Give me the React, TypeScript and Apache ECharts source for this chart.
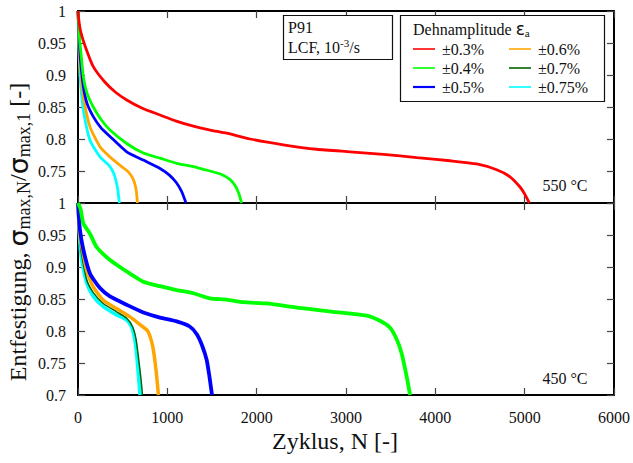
import React, { useEffect, useRef } from "react";
import * as echarts from "echarts";

// Strain amplitude labels and line colours
const amplitudes = ["±0.3%", "±0.4%", "±0.5%", "±0.6%", "±0.7%", "±0.75%"];
const colors = ["#ff0000", "#00ff00", "#0000ff", "#ffa500", "#006400", "#00ffff"];

// 550 °C: [cycle N, σmax,N/σmax,1]
const t550_03 = [[0, 1], [10, 0.985], [30, 0.968], [80, 0.945], [171, 0.913], [300, 0.889], [420, 0.873], [545, 0.861], [720, 0.848], [918, 0.8375], [1100, 0.828], [1291, 0.82], [1480, 0.814], [1664, 0.809], [1925, 0.8], [2298, 0.791], [2671, 0.784], [3045, 0.78], [3418, 0.776], [3791, 0.771], [4164, 0.766], [4463, 0.761], [4687, 0.752], [4836, 0.741], [4948, 0.725], [5000, 0.714], [5052, 0.7]];
const t550_04 = [[0, 1], [15, 0.96], [30, 0.939], [60, 0.897], [100, 0.872], [171, 0.85], [260, 0.83], [358, 0.814], [545, 0.793], [731, 0.778], [918, 0.77], [1104, 0.762], [1291, 0.757], [1477, 0.75], [1600, 0.745], [1700, 0.737], [1760, 0.727], [1800, 0.715], [1832, 0.7]];
const t550_05 = [[0, 1], [15, 0.95], [30, 0.92], [60, 0.882], [100, 0.856], [171, 0.835], [260, 0.817], [358, 0.804], [545, 0.78], [731, 0.767], [918, 0.754], [1020, 0.744], [1100, 0.732], [1160, 0.718], [1209, 0.7]];
const t550_06 = [[0, 1], [15, 0.93], [30, 0.905], [60, 0.866], [134, 0.819], [246, 0.788], [358, 0.772], [470, 0.759], [560, 0.749], [615, 0.738], [645, 0.725], [658, 0.712], [665, 0.7]];
const t550_075 = [[0, 1], [15, 0.92], [30, 0.885], [60, 0.845], [134, 0.798], [246, 0.772], [358, 0.757], [400, 0.746], [430, 0.732], [448, 0.718], [463, 0.7]];

// 450 °C
const t450_04 = [[0, 1], [30, 0.99], [60, 0.968], [134, 0.952], [209, 0.931], [358, 0.911], [545, 0.893], [731, 0.877], [918, 0.87], [1104, 0.864], [1291, 0.859], [1477, 0.851], [1664, 0.849], [1851, 0.845], [2112, 0.843], [2485, 0.836], [2858, 0.83], [3231, 0.824], [3381, 0.816], [3493, 0.805], [3567, 0.787], [3623, 0.765], [3679, 0.729], [3717, 0.7]];
const t450_05 = [[0, 1], [20, 0.96], [60, 0.927], [134, 0.89], [246, 0.867], [358, 0.854], [545, 0.841], [731, 0.829], [918, 0.821], [1104, 0.815], [1250, 0.807], [1330, 0.795], [1390, 0.777], [1440, 0.755], [1470, 0.73], [1500, 0.7]];
const t450_06 = [[0, 1], [20, 0.95], [60, 0.92], [97, 0.895], [171, 0.869], [283, 0.848], [432, 0.835], [582, 0.822], [694, 0.81], [780, 0.8], [825, 0.783], [850, 0.765], [881, 0.729], [900, 0.7]];
const t450_07 = [[0, 1], [30, 0.93], [97, 0.88], [171, 0.86], [283, 0.843], [432, 0.83], [545, 0.82], [610, 0.807], [650, 0.787], [680, 0.755], [705, 0.725], [722, 0.7]];
const t450_075 = [[0, 1], [20, 0.94], [41, 0.911], [97, 0.875], [171, 0.854], [283, 0.838], [432, 0.825], [545, 0.817], [600, 0.806], [635, 0.787], [655, 0.765], [675, 0.733], [694, 0.7]];

const xTicks = { min: 0, max: 6000, interval: 1000 };
const yTicks = { min: 0.7, max: 1, interval: 0.05 };

const SERIF = "'Liberation Serif', 'Times New Roman', serif";
const SANS = "'DejaVu Sans', sans-serif";

const fmtY = (v: number) => String(+v.toFixed(2));

function App() {
  const ref = useRef<HTMLDivElement>(null);

  useEffect(() => {
    if (!ref.current) return;
    const chart = echarts.init(ref.current, null, { renderer: "svg" });

    const frame = { show: true, onZero: false, lineStyle: { color: "#000", width: 2 } };
    const tick = { show: true, inside: true, length: 7, lineStyle: { color: "#444", width: 1.2 } };
    const xBase = (grid: number, pos: string, labels: boolean) => ({
      type: "value", gridIndex: grid, position: pos, ...xTicks,
      axisLine: frame, axisTick: tick, splitLine: { show: false },
      axisLabel: { show: labels, fontFamily: SERIF, fontSize: 16, color: "#111", margin: 14, formatter: (v: number) => String(v) },
    });
    const yBase = (grid: number, pos: string, labels: boolean, hideMin: boolean) => ({
      type: "value", gridIndex: grid, position: pos, ...yTicks,
      axisLine: frame, axisTick: tick, splitLine: { show: false },
      axisLabel: {
        show: labels, fontFamily: SERIF, fontSize: 16, color: "#111", margin: 12,
        formatter: (v: number) => (hideMin && Math.abs(v - 0.7) < 1e-6 ? "" : fmtY(v)),
      },
    });

    const line = (name: string, data: number[][], color: string, ax: number, w: number) => ({
      name, type: "line", data, xAxisIndex: ax, yAxisIndex: ax,
      showSymbol: false, smooth: 0.2,
      lineStyle: { color, width: w }, itemStyle: { color }, clip: true,
    });

    // legend entries built from the amplitude/colour lists
    const legendItems: any[] = [];
    amplitudes.forEach((label, i) => {
      const col = Math.floor(i / 3);
      const row = i % 3;
      const x0 = col === 0 ? 413 : 509;
      const y0 = 49 + row * 19;
      legendItems.push({ type: "line", z: 20, shape: { x1: x0, y1: y0, x2: x0 + 22, y2: y0 }, style: { stroke: colors[i], lineWidth: i === 2 ? 2.2 : 1.6 } });
      legendItems.push({ type: "text", z: 20, x: x0 + 29, y: y0, style: { text: label, font: `16px ${SERIF}`, fill: "#111", textVerticalAlign: "middle" } });
    });

    chart.setOption({
      animation: false,
      backgroundColor: "#fff",
      grid: [
        { left: 78, top: 11, width: 536, height: 192 },
        { left: 78, top: 203, width: 536, height: 192 },
      ],
      xAxis: [xBase(0, "bottom", false), xBase(0, "top", false), xBase(1, "bottom", true), xBase(1, "top", false)],
      yAxis: [yBase(0, "left", true, true), yBase(0, "right", false, true), yBase(1, "left", true, false), yBase(1, "right", false, false)],
      series: [
        line(amplitudes[5], t550_075, colors[5], 0, 2.8),
        line(amplitudes[3], t550_06, colors[3], 0, 2.8),
        line(amplitudes[2], t550_05, colors[2], 0, 2.8),
        line(amplitudes[1], t550_04, colors[1], 0, 2.8),
        line(amplitudes[0], t550_03, colors[0], 0, 2.8),
        line(amplitudes[5], t450_075, colors[5], 2, 3.5),
        line(amplitudes[4], t450_07, colors[4], 2, 1.5),
        line(amplitudes[3], t450_06, colors[3], 2, 3.5),
        line(amplitudes[2], t450_05, colors[2], 2, 3.8),
        line(amplitudes[1], t450_04, colors[1], 2, 3.8),
      ],
      graphic: [
        // specimen box
        { type: "rect", z: 10, shape: { x: 283.5, y: 15.5, width: 109, height: 44 }, style: { fill: "#fff", stroke: "#111", lineWidth: 1.2 } },
        { type: "text", x: 288, y: 27, z: 20, style: { text: "P91", font: `16px ${SERIF}`, fill: "#111", textVerticalAlign: "middle" } },
        {
          type: "text", x: 288, y: 47, z: 20,
          style: {
            text: "{a|LCF, 10}{sup|-3}{a|/s}", fill: "#111", textVerticalAlign: "middle",
            rich: { a: { fontFamily: SERIF, fontSize: 16, fill: "#111" }, sup: { fontFamily: SERIF, fontSize: 11, fill: "#111", verticalAlign: "top", padding: [0, 0, 8, 0] } },
          },
        },
        // legend box
        { type: "rect", z: 10, shape: { x: 400.5, y: 15.5, width: 204, height: 86 }, style: { fill: "#fff", stroke: "#111", lineWidth: 1.2 } },
        {
          type: "text", x: 413, y: 29, z: 20,
          style: {
            text: "{a|Dehnamplitude }{e|ε}{sub|a}", fill: "#111", textVerticalAlign: "middle",
            rich: { a: { fontFamily: SERIF, fontSize: 16, fill: "#111" }, e: { fontFamily: SANS, fontSize: 17, fill: "#111" }, sub: { fontFamily: SERIF, fontSize: 11, fill: "#111", verticalAlign: "bottom", padding: [8, 0, 0, 0] } },
          },
        },
        ...legendItems,
        // temperature labels
        { type: "text", x: 565, y: 185, z: 20, style: { text: "550 °C", font: `16px ${SERIF}`, fill: "#111", textAlign: "center", textVerticalAlign: "middle" } },
        { type: "text", x: 565, y: 378, z: 20, style: { text: "450 °C", font: `16px ${SERIF}`, fill: "#111", textAlign: "center", textVerticalAlign: "middle" } },
        // axis titles
        { type: "text", x: 335, y: 441, z: 20, style: { text: "Zyklus, N [-]", font: `24px ${SERIF}`, fill: "#111", textAlign: "center", textVerticalAlign: "middle" } },
        {
          type: "text", x: 18, y: 232, z: 20, rotation: Math.PI / 2,
          style: {
            text: "{a|Entfestigung, }{s|σ}{sub|max,N}{a|/}{s|σ}{sub|max,1}{a| [-]}",
            fill: "#111", textAlign: "center", textVerticalAlign: "middle",
            rich: {
              a: { fontFamily: SERIF, fontSize: 24, fill: "#111" },
              s: { fontFamily: SANS, fontSize: 27, fill: "#111" },
              sub: { fontFamily: SERIF, fontSize: 18, fill: "#111", verticalAlign: "bottom", padding: [11, 0, 0, 0] },
            },
          },
        },
      ],
    });

    return () => chart.dispose();
  }, []);

  return <div ref={ref} style={{ position: "absolute", left: 0, top: 0, width: 633, height: 463 }} />;
}

export default App;
